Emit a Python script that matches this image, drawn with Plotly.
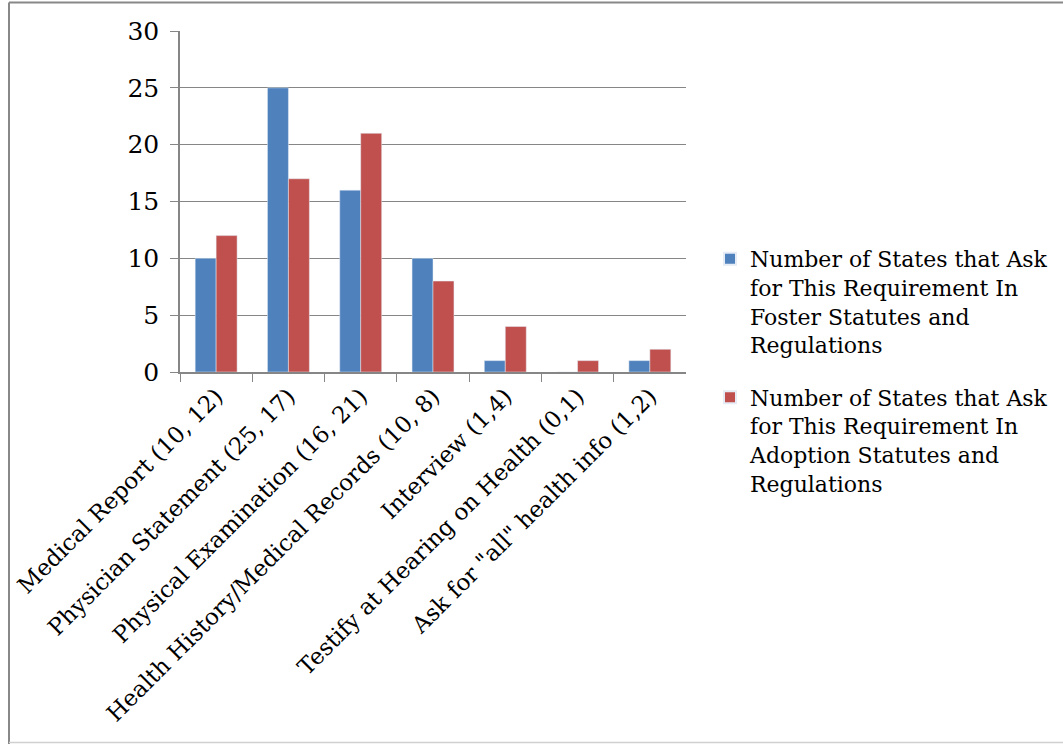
import plotly.graph_objects as go

categories = [
    "Medical Report (10, 12)",
    "Physician Statement (25, 17)",
    "Physical Examination (16, 21)",
    "Health History/Medical Records (10, 8)",
    "Interview (1,4)",
    "Testify at Hearing on Health (0,1)",
    'Ask for "all" health info (1,2)',
]
foster = [10, 25, 16, 10, 1, 0, 1]
adoption = [12, 17, 21, 8, 4, 1, 2]
series_names = [
    "Number of States that Ask<br>for This Requirement In<br>Foster Statutes and<br>Regulations",
    "Number of States that Ask<br>for This Requirement In<br>Adoption Statutes and<br>Regulations",
]
y_ticks = [0, 5, 10, 15, 20, 25, 30]

FONT = "DejaVu Serif"
W, H = 1063, 744

fig = go.Figure()
fig.add_trace(go.Bar(x=categories, y=foster, name=series_names[0], marker_color="#4F81BD",
                     legendgroup="foster"))
fig.add_trace(go.Bar(x=categories, y=adoption, name=series_names[1], marker_color="#C0504D",
                     legendgroup="adoption"))

fig.update_layout(
    width=W, height=H,
    margin=dict(l=0, r=0, t=0, b=0, autoexpand=False),
    paper_bgcolor="white", plot_bgcolor="white",
    barmode="group", bargap=0.42, bargroupgap=0,
    font=dict(family=FONT, color="black", size=21),
    xaxis=dict(
        domain=[180 / W, 686 / W],
        type="category",
        tickson="boundaries",
        ticks="outside", ticklen=8, tickcolor="#868686",
        showline=True, linecolor="#868686", linewidth=1.5,
        tickangle=-45, tickfont=dict(size=23, family=FONT),
        showgrid=False, automargin=False,
    ),
    yaxis=dict(
        domain=[(H - 372) / H, (H - 31) / H],
        range=[0, 30], tickvals=y_ticks,
        ticks="outside", ticklen=8, tickcolor="#868686",
        showline=True, linecolor="#868686", linewidth=1.5,
        showgrid=True, gridcolor="#868686", gridwidth=1.2,
        tickfont=dict(size=25, family=FONT), ticklabelstandoff=6,
        zeroline=False, automargin=False,
    ),
    legend=dict(
        x=710 / W, y=(H - 238) / H, xanchor="left", yanchor="top",
        font=dict(size=22, family=FONT),
        itemsizing="constant", tracegroupgap=21, valign="top",
        bgcolor="rgba(0,0,0,0)", traceorder="grouped",
    ),
    showlegend=True,
)

# Outer chart border
fig.add_shape(type="line", xref="paper", yref="paper", x0=9 / W, x1=1, y0=1 - 2.5 / H, y1=1 - 2.5 / H,
              line=dict(color="#888888", width=2))
fig.add_shape(type="line", xref="paper", yref="paper", x0=9 / W, x1=9 / W, y0=0, y1=1 - 2.5 / H,
              line=dict(color="#888888", width=2))
fig.add_shape(type="line", xref="paper", yref="paper", x0=9 / W, x1=1, y0=1.5 / H, y1=1.5 / H,
              line=dict(color="#d0d0d0", width=1.5))

fig.write_html("out.html")
